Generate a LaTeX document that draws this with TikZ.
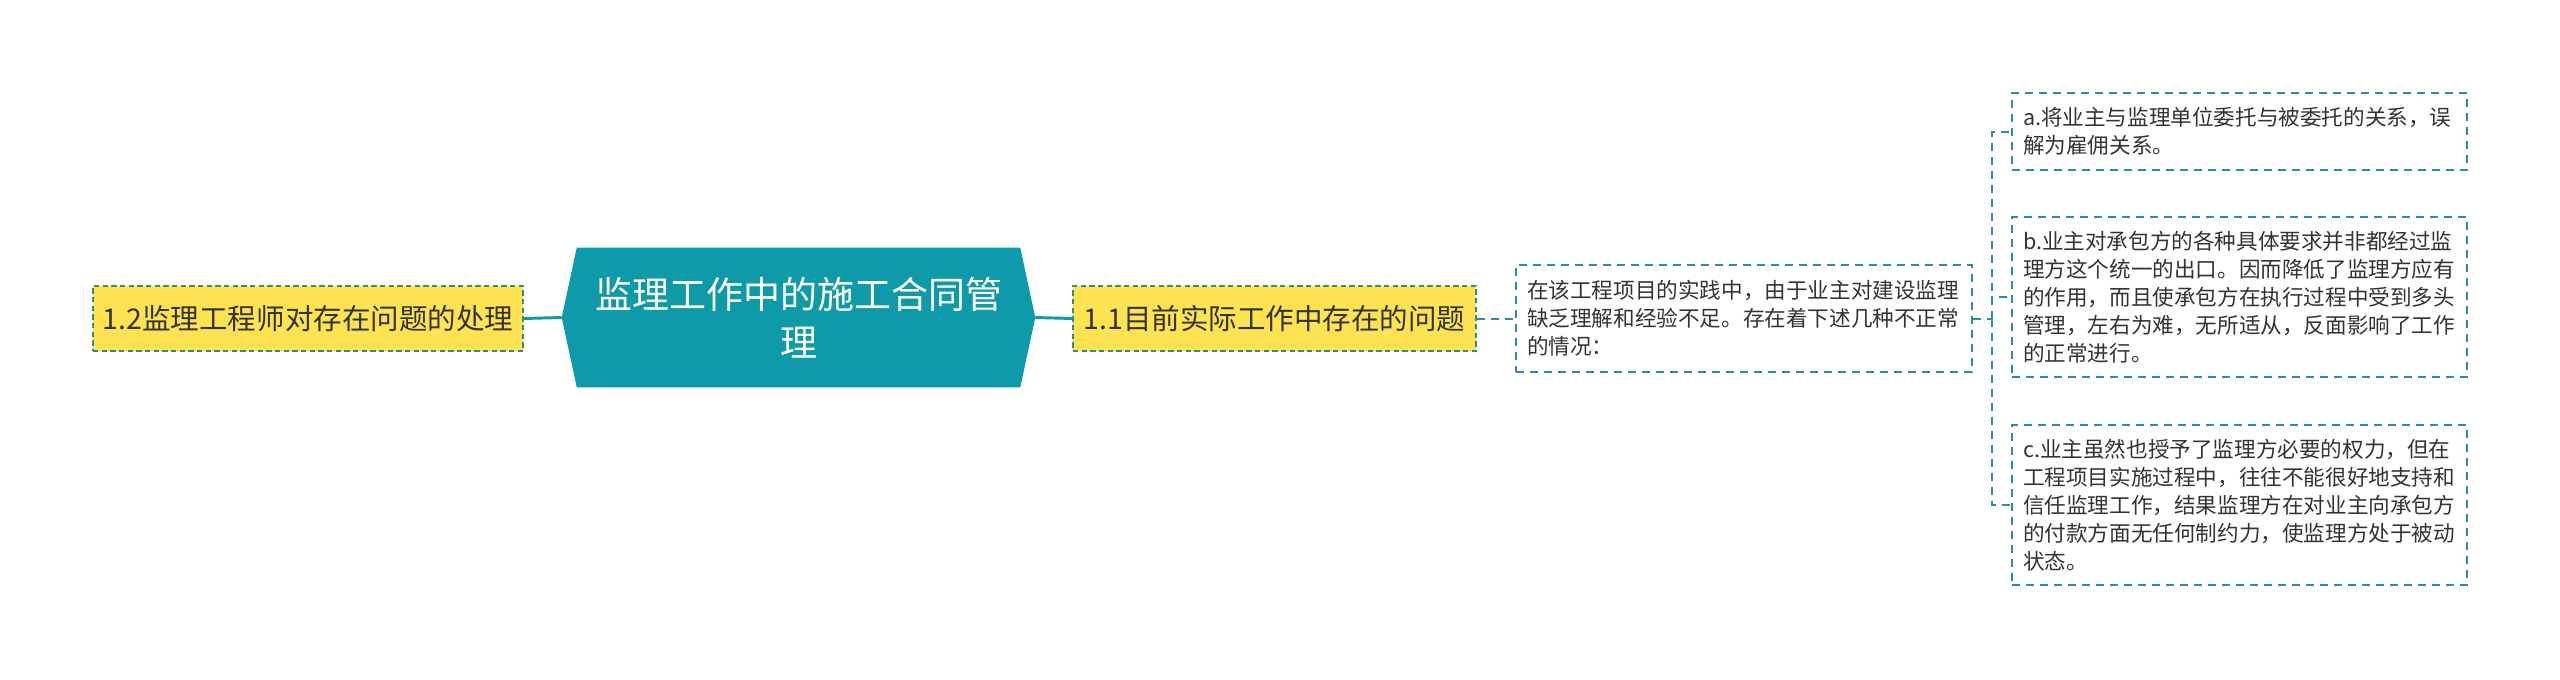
\documentclass[tikz,border=0pt]{standalone}
\usepackage{fontspec}
\setmainfont{Noto Sans CJK SC}
\usetikzlibrary{calc,backgrounds}
\definecolor{tealmain}{HTML}{0E9AA8}
\definecolor{yel}{HTML}{FDE351}
\definecolor{ybord}{HTML}{2E8F7E}
\definecolor{dbord}{HTML}{2A8E9C}
\definecolor{txt}{HTML}{333333}
\begin{document}
\begin{tikzpicture}[x=0.75pt,y=-0.75pt,
  ybox/.style={draw=ybord, fill=yel, dash pattern=on 4pt off 2.5pt, line width=1.4pt,
    minimum height=48.75pt, inner sep=0pt, text=txt, font=\fontsize{21.4}{26}\selectfont},
  dbox/.style={draw=dbord, dash pattern=on 6pt off 4.5pt, line width=1.5pt,
    inner xsep=8.25pt, inner ysep=0pt, text width=324.75pt, align=left, text=txt,
    font=\fontsize{16.2}{21}\selectfont},
  solidconn/.style={draw=tealmain, line width=2.2pt},
  dashconn/.style={draw=dbord, line width=1.5pt, dash pattern=on 6pt off 4.5pt},
]
\useasboundingbox (0,0) rectangle (2560,679);
% central topic
\node[minimum width=354.75pt, minimum height=104.25pt, inner sep=0pt, text=white, align=center,
  font=\fontsize{27.75}{36}\selectfont] (H) at (798.5,317.5) {监理工作中的施工合同管\\理};
\begin{scope}[on background layer]
\fill[tealmain] (H.west) -- ($(H.north west)+(15,0)$) -- ($(H.north east)+(-15,0)$) -- (H.east)
  -- ($(H.south east)+(-15,0)$) -- ($(H.south west)+(15,0)$) -- cycle;
\end{scope}
% yellow boxes
\node[ybox, minimum width=322.5pt] (L) at (308,318.5) {1.2监理工程师对存在问题的处理};
\node[ybox, minimum width=302.25pt] (R) at (1274.5,318.5) {1.1目前实际工作中存在的问题};
% description
\node[dbox, text width=325.5pt, minimum height=80.25pt, inner xsep=8.25pt] (D) at (1744,318.5)
  {在该工程项目的实践中，由于业主对建设监理\\缺乏理解和经验不足。存在着下述几种不正常\\的情况：};
% children
\node[dbox, minimum height=57.75pt] (A) at (2239.5,131.5)
  {a.将业主与监理单位委托与被委托的关系，误\\解为雇佣关系。};
\node[dbox, minimum height=120pt] (B) at (2239.5,297)
  {b.业主对承包方的各种具体要求并非都经过监\\理方这个统一的出口。因而降低了监理方应有\\的作用，而且使承包方在执行过程中受到多头\\管理，左右为难，无所适从，反面影响了工作\\的正常进行。};
\node[dbox, minimum height=120pt] (C) at (2239.5,505)
  {c.业主虽然也授予了监理方必要的权力，但在\\工程项目实施过程中，往往不能很好地支持和\\信任监理工作，结果监理方在对业主向承包方\\的付款方面无任何制约力，使监理方处于被动\\状态。};
% connectors
\draw[solidconn] (L.east) -- (H.west);
\draw[solidconn] (H.east) -- (R.west);
\draw[dashconn] (R.east) -- (D.west);
\coordinate (T) at (1992,318.5);
\draw[dashconn] (D.east) -- (T);
\draw[dashconn] (T) |- (A.west);
\draw[dashconn] (T) |- (B.west);
\draw[dashconn] (T) |- (C.west);
\end{tikzpicture}
\end{document}
